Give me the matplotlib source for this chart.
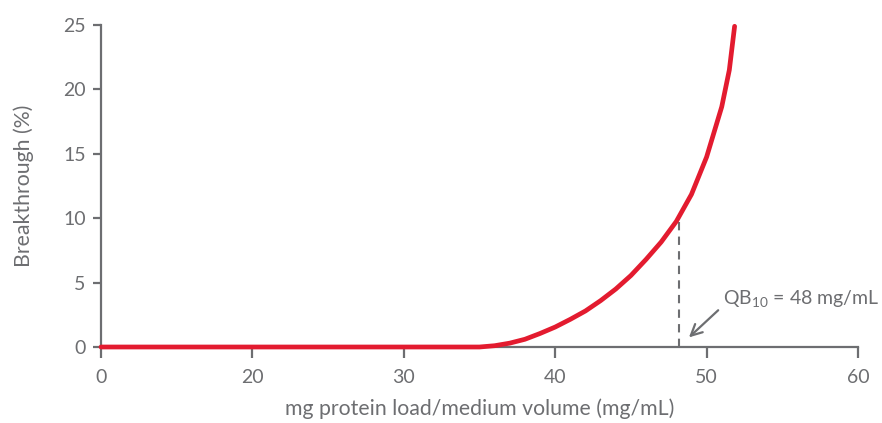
import matplotlib
matplotlib.use("Agg")
import matplotlib.pyplot as plt
import numpy as np

# values
load = [0, 35, 36, 37, 38, 39, 40, 41, 42, 43, 44, 45, 46, 47, 48, 49, 50, 50.5, 51, 51.5, 51.85]
breakthrough = [0, 0, 0.1, 0.3, 0.6, 1.05, 1.55, 2.15, 2.8, 3.6, 4.5, 5.55, 6.8, 8.15, 9.75,
                11.85, 14.75, 16.7, 18.65, 21.5, 24.9]
qb10_load = 48.2
qb10_value = 9.7
x_ticks = [0, 20, 30, 40, 50, 60]
y_ticks = [0, 5, 10, 15, 20, 25]

GRAY = "#6d6e71"
RED = "#e31b2f"

plt.rcParams['font.family'] = ['Lato', 'DejaVu Sans']
plt.rcParams['mathtext.fontset'] = 'custom'
plt.rcParams['mathtext.rm'] = 'Lato'


# x axis: 0-20 squeezed into one tick interval, then linear
def fwd(x):
    x = np.asarray(x, dtype=float)
    return np.where(x < 20, x / 20, (x - 10) / 10)


def inv(p):
    p = np.asarray(p, dtype=float)
    return np.where(p < 1, p * 20, p * 10 + 10)


fig = plt.figure(figsize=(8.82, 4.23), dpi=100)
ax = fig.add_axes([101 / 882, 76 / 423, 757 / 882, 322 / 423])
ax.set_xscale('function', functions=(fwd, inv))
ax.set_xlim(0, 60)
ax.set_ylim(0, 25)

ax.plot(load, breakthrough, color=RED, lw=3.4, solid_capstyle='round', solid_joinstyle='round',
        zorder=5, clip_on=False)
ax.plot([qb10_load, qb10_load], [0, qb10_value], color=GRAY, lw=1.5, ls=(0, (4, 3)), zorder=3)

ax.annotate("", xy=(48.7, 0.6), xytext=(50.9, 3.0),
            arrowprops=dict(arrowstyle='->', color=GRAY, lw=1.6, mutation_scale=20))
ax.text(51.1, 3.7, r"QB$_{\mathrm{10}}$ = 48 mg/mL", color=GRAY, fontsize=14,
        ha='left', va='center')

for s in ['top', 'right']:
    ax.spines[s].set_visible(False)
for s in ['left', 'bottom']:
    ax.spines[s].set_color(GRAY)
    ax.spines[s].set_linewidth(1.6)

ax.set_xticks(x_ticks)
ax.set_xticklabels([str(t) for t in x_ticks])
ax.set_yticks(y_ticks)
ax.minorticks_off()
ax.tick_params(axis='x', direction='out', length=8, width=1.6, color=GRAY, labelcolor=GRAY,
               labelsize=14, pad=8)
ax.tick_params(axis='y', direction='out', length=6, width=1.6, color=GRAY, labelcolor=GRAY,
               labelsize=14, pad=5)

ax.set_xlabel("mg protein load/medium volume (mg/mL)", color=GRAY, fontsize=15.3, labelpad=9)
ax.set_ylabel("Breakthrough (%)", color=GRAY, fontsize=15.3, labelpad=21)

fig.savefig("out.png", dpi=100)
